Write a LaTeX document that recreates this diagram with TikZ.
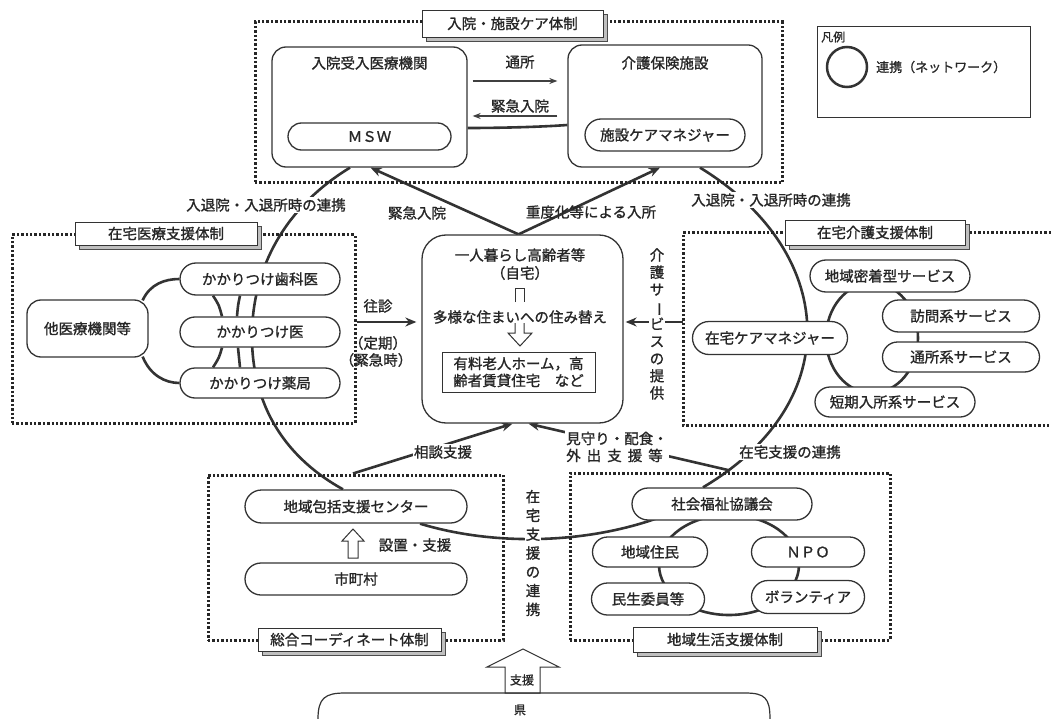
\documentclass[tikz,border=0pt]{standalone}
\usepackage{fontspec}
\setmainfont{Noto Sans CJK JP}[BoldFont=Noto Sans CJK JP, BoldFeatures={FakeBold=1.2}]
\usetikzlibrary{arrows.meta,calc,shapes.misc,backgrounds}
\begin{document}
\begin{tikzpicture}[x=1pt,y=-1pt,
  every node/.style={font=\fontsize{14.5}{17}\selectfont\bfseries, text=black!85},
  dotbox/.style={draw=black!85, line width=3pt, dash pattern=on 2.4pt off 2pt},
  tab/.style={draw=black!80, line width=0.9pt, fill=white, inner sep=0pt},
  tabshadow/.style={draw=black!70, line width=0.8pt, fill=black!25, inner sep=0pt},
  oval/.style={rounded rectangle, draw=black!80, line width=1.3pt, fill=white, inner sep=0pt},
  rbox/.style={rectangle, draw=black!80, line width=1.3pt, fill=white, inner sep=0pt, rounded corners=14pt},
  net/.style={draw=black!80, line width=2.6pt},
  bigarrow/.style={net, -{Stealth[length=11pt,width=9pt]}},
  thinarrow/.style={draw=black!75, line width=1.3pt, -{Stealth[length=8pt,width=6pt]}},
  lbl/.style={fill=white, inner sep=1.5pt},
  hollow/.style={draw=black!80, line width=1pt, fill=white},
]
\useasboundingbox (0,0) rectangle (1051,719);

% ---------------- top : 入院・施設ケア体制 ----------------
\node[dotbox, minimum width=527pt, minimum height=161pt] (tbox) at (518.5,102.5) {};
\node[tabshadow, minimum width=181pt, minimum height=27pt] (tab1s) at (516.5,27.5) {};
\node[tab, minimum width=181pt, minimum height=27pt] (tab1) at (512.5,23.5) {入院・施設ケア体制};
\node[rbox, minimum width=195pt, minimum height=120pt] (hosp) at (369.5,107) {};
\node (hospT) at (369.5,63) {入院受入医療機関};
\node[oval, minimum width=163pt, minimum height=27pt] (msw) at (369.5,136.5) {ＭＳＷ};
\node[rbox, minimum width=194pt, minimum height=122pt] (care) at (665,106) {};
\node (careT) at (665,63) {介護保険施設};
\node[oval, minimum width=160pt, minimum height=32pt] (scm) at (665,135) {施設ケアマネジャー};
\node (tsusyoL) at (520,62) {通所};
\node (kinkyuL1) at (520,106) {緊急入院};

% ---------------- legend ----------------
\node[draw=black!80, line width=1pt, minimum width=213pt, minimum height=91pt, inner sep=0pt] (legend) at (923.5,72.5) {};
\node[anchor=west, font=\fontsize{12}{14}\selectfont\bfseries, inner sep=0pt] (hanrei) at (821,37) {凡例};
\node[circle, draw=black!80, line width=2.5pt, minimum size=40pt, inner sep=0pt] (lgc) at (847,67) {};
\node[anchor=west, font=\fontsize{13}{15}\selectfont\bfseries, inner sep=0pt] (lgt) at (876,67) {連携（ネットワーク）};

% ---------------- left : 在宅医療支援体制 ----------------
\node[dotbox, minimum width=343pt, minimum height=188pt] (lbox) at (183.5,329) {};
\node[tabshadow, minimum width=182pt, minimum height=23pt] (tab2s) at (170,237.5) {};
\node[tab, minimum width=182pt, minimum height=23pt] (tab2) at (166,233.5) {在宅医療支援体制};
\node[rbox, minimum width=121pt, minimum height=57pt] (other) at (87.5,328.5) {他医療機関等};
\node[oval, minimum width=160pt, minimum height=32pt] (shika) at (260,279) {かかりつけ歯科医};
\node[oval, minimum width=160pt, minimum height=30pt] (ika) at (260,332) {かかりつけ医};
\node[oval, minimum width=160pt, minimum height=30pt] (yakkyoku) at (260,383) {かかりつけ薬局};
\node (oushinL) at (378,306) {往診};
\node (teikiL) at (378,343) {（定期）};
\node (kinkyujiL) at (376,360) {（緊急時）};
\node[lbl] (renkeiL1) at (266,205) {入退院・入退所時の連携};

% ---------------- centre : home ----------------
\node[rbox, rounded corners=24pt, minimum width=201pt, minimum height=188pt] (home) at (522.5,329) {};
\node (homeT1) at (520,255) {一人暮らし高齢者等};
\node (homeT2) at (520,273) {（自宅）};
\node (sumikae) at (520,317) {多様な住まいへの住み替え};
\node[draw=black!80, line width=1pt, minimum width=153pt, minimum height=40pt, inner sep=0pt, align=center,
      font=\fontsize{14.5}{17}\selectfont\bfseries] (yuryo) at (518.5,372) {有料老人ホーム，高\\齢者賃貸住宅　など};
\draw[hollow, fill=none] (515,302) -- (515,288) -- (524,288) -- (524,302);
\draw[hollow] (515,323) -- (515,333) -- (508,333) -- (520,346) -- (532,333) -- (524,333) -- (524,323);
\node (kinkyuL2) at (417,213) {緊急入院};
\node (nyushoL) at (591,212) {重度化等による入所};

% ---------------- right : 在宅介護支援体制 ----------------
\draw[dotbox] (1051,233) -| (683,425) -- (1051,425);
\coordinate (kaigoW) at (683,322);
\node[tabshadow, minimum width=180pt, minimum height=25pt] (tab3s) at (879,236.5) {};
\node[tab, minimum width=180pt, minimum height=25pt] (tab3) at (875,232.5) {在宅介護支援体制};
\node[oval, minimum width=160pt, minimum height=32pt] (chiiki) at (890,276) {地域密着型サービス};
\node[oval, minimum width=157pt, minimum height=32pt] (houmon) at (961,316) {訪問系サービス};
\node[oval, minimum width=157pt, minimum height=30pt] (tsusho) at (961,357) {通所系サービス};
\node[oval, minimum width=160pt, minimum height=30pt] (tanki) at (895,402) {短期入所系サービス};
\node[oval, minimum width=155pt, minimum height=33pt] (zcm) at (770,338) {在宅ケアマネジャー};
\node[lbl] (renkeiL2) at (771,200) {入退院・入退所時の連携};
\node[lbl, align=center, inner sep=0.5pt, font=\fontsize{14.5}{17.25}\selectfont\bfseries] (kaigoV) at (657,324)
  {介\\護\\サ\\\rotatebox[origin=c]{-90}{ー}\\ビ\\ス\\の\\提\\供};

% ---------------- bottom left : 総合コーディネート体制 ----------------
\node[dotbox, minimum width=295pt, minimum height=165pt] (sbox) at (355.5,557.5) {};
\node[tabshadow, minimum width=183pt, minimum height=23pt] (tab4s) at (353.5,643.5) {};
\node[tab, minimum width=183pt, minimum height=23pt] (tab4) at (349.5,639.5) {総合コーディネート体制};
\node[oval, minimum width=222pt, minimum height=33pt] (hokatsu) at (356,506.5) {地域包括支援センター};
\node[oval, minimum width=222pt, minimum height=32pt] (shichoson) at (356,579) {市町村};
\draw[hollow] (353,529) -- (364,541) -- (358,541) -- (358,558) -- (348,558) -- (348,541) -- (342,541) -- cycle;
\node (setchiL) at (415,545) {設置・支援};
\node[lbl] (sodanL) at (443,452) {相談支援};

% ---------------- bottom right : 地域生活支援体制 ----------------
\node[dotbox, minimum width=320pt, minimum height=167pt] (cbox) at (730,556.5) {};
\node[tabshadow, minimum width=184pt, minimum height=25pt] (tab5s) at (729,643.5) {};
\node[tab, minimum width=184pt, minimum height=25pt] (tab5) at (725,639.5) {地域生活支援体制};
\node[oval, minimum width=180pt, minimum height=32pt] (shakyo) at (722,504) {社会福祉協議会};
\node[oval, minimum width=115pt, minimum height=30pt] (jumin) at (650,552) {地域住民};
\node[oval, minimum width=113pt, minimum height=30pt] (npo) at (808,552) {ＮＰＯ};
\node[oval, minimum width=113pt, minimum height=32pt] (minsei) at (648,599) {民生委員等};
\node[oval, minimum width=113pt, minimum height=33pt] (volunteer) at (808,597) {ボランティア};
\node[lbl, align=left] (mimamoriL) at (617,447) {見守り・配食・\\外\hspace{6pt}出\hspace{6pt}支\hspace{6pt}援\hspace{6pt}等};
\node[lbl] (zaitakuL) at (790,452) {在宅支援の連携};
\node[lbl, align=center, inner sep=0.5pt, font=\fontsize{14.5}{18.8}\selectfont\bfseries] (zaitakuV) at (533,553)
  {在\\宅\\支\\援\\の\\連\\携};

% ---------------- bottom : 県 ----------------
\draw[hollow] (523,649) -- (559,667) -- (540,667) -- (540,693) -- (505,693) -- (505,667) -- (487,667) -- cycle;
\node[font=\fontsize{12}{14}\selectfont\bfseries] (shienL) at (522,680) {支援};
\draw[draw=black!80, line width=1.2pt] (318,719) .. controls (318,698) and (325,693) .. (345,693) -- (745,693) .. controls (765,693) and (770,698) .. (770,719);
\node[font=\fontsize{12}{14}\selectfont\bfseries] (kenL) at (520,710) {県};

% ---------------- connectors (behind nodes) ----------------
\begin{scope}[on background layer]
  \draw[thinarrow] ($(hosp.east)+(5,-26)$) -- ($(care.west)+(-10,-25)$);
  \draw[thinarrow] ($(care.west)+(-10,10)$) -- ($(hosp.east)+(5,9)$);
  \draw[net] ($(hosp.east)+(0,21)$) .. controls (500,128) and (540,127) .. ($(care.west)+(0,19)$);
  \draw[bigarrow] ($(home.north)+(-4,0)$) -- ($(hosp.south)+(1,0)$);
  \draw[bigarrow] ($(home.north)+(-4,0)$) -- ($(care.south)+(-5,0)$);
  % left network
  \draw[net] ($(hosp.south)+(-19.5,0)$) .. controls (300,198) and (255,250) .. (252,330)
             .. controls (250,410) and (290,460) .. ($(hokatsu.north)+(-13,0)$);
  % right network
  \draw[net] ($(care.south)+(35,0)$) .. controls (835,250) and (850,400) .. ($(shakyo.north)+(-19,0)$);
  % left group
  \draw[net] ($(other.north east)+(-6,1)$) .. controls (150,284) and (165,279) .. (shika.west);
  \draw[net] ($(other.south east)+(-6,-1)$) .. controls (150,375) and (165,383) .. (yakkyoku.west);
  \draw[net] ($(shika.south)+(-47,0)$) .. controls (219,305) .. ($(ika.north)+(-38,0)$);
  \draw[net] ($(shika.south)+(-20,0)$) .. controls (238,305) .. ($(ika.north)+(-23,0)$);
  \draw[net] ($(ika.south)+(-38,0)$) .. controls (219,358) .. ($(yakkyoku.north)+(-47,0)$);
  \draw[net] ($(ika.south)+(-22,0)$) .. controls (239,358) .. ($(yakkyoku.north)+(-20,0)$);
  % right group
  \draw[net] (872,338) ellipse [x radius=46, y radius=55];
  % bottom right group
  \draw[net] (729,565) ellipse [x radius=70, y radius=50];
  % arrows to home
  \draw[bigarrow] ($(lbox.east)+(0,-7)$) -- ($(home.west)+(-5,-7)$);
  \draw[bigarrow] (kaigoW) -- ($(home.east)+(2,-7)$);
  \draw[bigarrow] ($(sbox.north)+(-2.5,0)$) -- ($(home.south)+(-10,0)$);
  \draw[bigarrow] ($(cbox.north)+(0,-1)$) -- ($(home.south)+(6,0)$);
  % bottom network
  \draw[net] ($(hokatsu.south)+(64,0)$) .. controls (490,545) and (580,545) .. ($(shakyo.south west)+(8,-2)$);
\end{scope}
\end{tikzpicture}
\end{document}
